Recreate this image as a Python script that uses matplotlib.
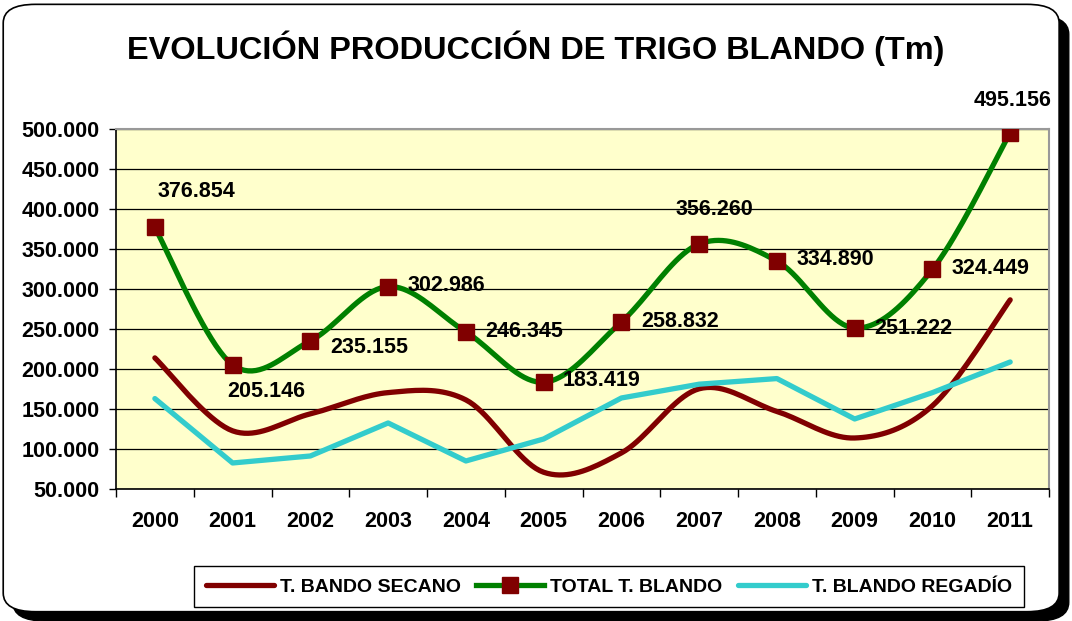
import numpy as np
import matplotlib
matplotlib.use("Agg")
import matplotlib.pyplot as plt
from matplotlib.patches import FancyBboxPatch
from matplotlib.ticker import FuncFormatter, FixedLocator

years = ["2000", "2001", "2002", "2003", "2004", "2005",
         "2006", "2007", "2008", "2009", "2010", "2011"]
total = [376854, 205146, 235155, 302986, 246345, 183419,
         258832, 356260, 334890, 251222, 324449, 495156]
regadio = [163000, 82500, 91250, 132500, 85000, 112500,
           163750, 181000, 188000, 137500, 170449, 208750]
secano = [t - r for t, r in zip(total, regadio)]

# label placement: (dx, dy) in points, ha
label_pos = [(30, 26, "center"), (24, -19, "center"), (14, -5, "left"),
             (14, 1, "left"), (14, 0, "left"), (14, 1, "left"),
             (14, 0, "left"), (11, 25, "center"), (14, 1, "left"),
             (14, 0, "left"), (14, 1, "left"), (2, 23, "center")]

plt.rcParams['font.family'] = ['Liberation Sans', 'DejaVu Sans']
plt.rcParams['font.weight'] = 'bold'


def smooth(y, n=20):
    # Catmull-Rom style smoothing, like Excel's smoothed line
    y = np.asarray(y, float)
    x = np.arange(len(y), dtype=float)
    px = np.concatenate([[x[0]], x, [x[-1]]])
    py = np.concatenate([[y[0]], y, [y[-1]]])
    xs, ys = [], []
    for i in range(1, len(px) - 2):
        p0, p1, p2, p3 = py[i - 1], py[i], py[i + 1], py[i + 2]
        q0, q1, q2, q3 = px[i - 1], px[i], px[i + 1], px[i + 2]
        t = np.linspace(0, 1, n, endpoint=False)
        c1y = p1 + (p2 - p0) / 6
        c2y = p2 - (p3 - p1) / 6
        c1x = q1 + (q2 - q0) / 6
        c2x = q2 - (q3 - q1) / 6
        b = lambda a, b_, c, d: ((1 - t) ** 3 * a + 3 * (1 - t) ** 2 * t * b_
                                 + 3 * (1 - t) * t ** 2 * c + t ** 3 * d)
        xs.append(b(q1, c1x, c2x, q2))
        ys.append(b(p1, c1y, c2y, p2))
    xs.append([x[-1]])
    ys.append([y[-1]])
    return np.concatenate(xs), np.concatenate(ys)


fig = plt.figure(figsize=(10.72, 6.21), dpi=100)

# rounded outer frame with shadow
shadow = FancyBboxPatch((0.012, 0.0), 0.985, 0.975,
                        boxstyle="round,pad=0,rounding_size=0.03",
                        transform=fig.transFigure, facecolor="black",
                        edgecolor="black", zorder=-2)
frame = FancyBboxPatch((0.003, 0.015), 0.985, 0.978,
                       boxstyle="round,pad=0,rounding_size=0.03",
                       transform=fig.transFigure, facecolor="white",
                       edgecolor="black", linewidth=1.2, zorder=-1)
fig.patches.extend([shadow, frame])

ax = fig.add_axes([0.1082, 0.2126, 0.8704, 0.5797])
ax.set_facecolor("#FFFFCC")

x = np.arange(len(years))
xs, ys = smooth(secano)
l1, = ax.plot(xs, ys, color="#800000", lw=3.8, solid_capstyle="round",
              label="T. BANDO SECANO", zorder=3)
xs, ys = smooth(total)
ax.plot(xs, ys, color="#008000", lw=3.8, solid_capstyle="round", zorder=4)
ax.plot(x, total, ls="none", marker="s", ms=12, color="#800000", zorder=5)
l2, = ax.plot([], [], color="#008000", lw=3.8, marker="s", ms=12,
              mfc="#800000", mec="#800000", label="TOTAL T. BLANDO")
l3, = ax.plot(x, regadio, color="#33CCCC", lw=3.8, solid_capstyle="round",
              label="T. BLANDO REGADÍO", zorder=3)

for i, v in enumerate(total):
    dx, dy, ha = label_pos[i]
    ax.annotate(f"{v:,}".replace(",", "."), (i, v), xytext=(dx, dy),
                textcoords="offset points", ha=ha, va="center",
                fontsize=15.5, fontweight="bold", zorder=6,
                annotation_clip=False)

ax.set_xlim(-0.5, 11.5)
ax.set_ylim(50000, 500000)
ax.set_yticks(np.arange(50000, 500001, 50000))
ax.yaxis.set_major_formatter(FuncFormatter(lambda v, p: f"{int(v):,}".replace(",", ".")))
ax.grid(axis="y", color="black", lw=0.9)
ax.set_axisbelow(True)
ax.set_xticks(x)
ax.set_xticklabels(years)
ax.xaxis.set_minor_locator(FixedLocator(np.arange(-0.5, 12, 1)))
ax.tick_params(axis="x", which="major", length=0, pad=16, labelsize=15.5)
ax.tick_params(axis="x", which="minor", length=6, width=1)
ax.tick_params(axis="y", length=5, width=1, pad=7, labelsize=15.5)
for s in ["top", "right"]:
    ax.spines[s].set_color("#999999")
    ax.spines[s].set_linewidth(1.5)
for s in ["left", "bottom"]:
    ax.spines[s].set_linewidth(1.2)

fig.text(0.5, 0.922, "EVOLUCIÓN PRODUCCIÓN DE TRIGO BLANDO (Tm)",
         ha="center", va="center", fontsize=23.4, fontweight="bold")

leg = fig.legend(handles=[l1, l2, l3], loc="center", ncol=3,
                 bbox_to_anchor=(0.568, 0.055), fancybox=False,
                 edgecolor="black", framealpha=1, handlelength=3.5,
                 handletextpad=0.3, columnspacing=0.8, borderpad=0.6,
                 prop={"family": ["Liberation Sans Narrow", "Liberation Sans"],
                       "weight": "bold", "size": 14})
leg.get_frame().set_linewidth(1.0)

fig.savefig("out.png", dpi=100)
